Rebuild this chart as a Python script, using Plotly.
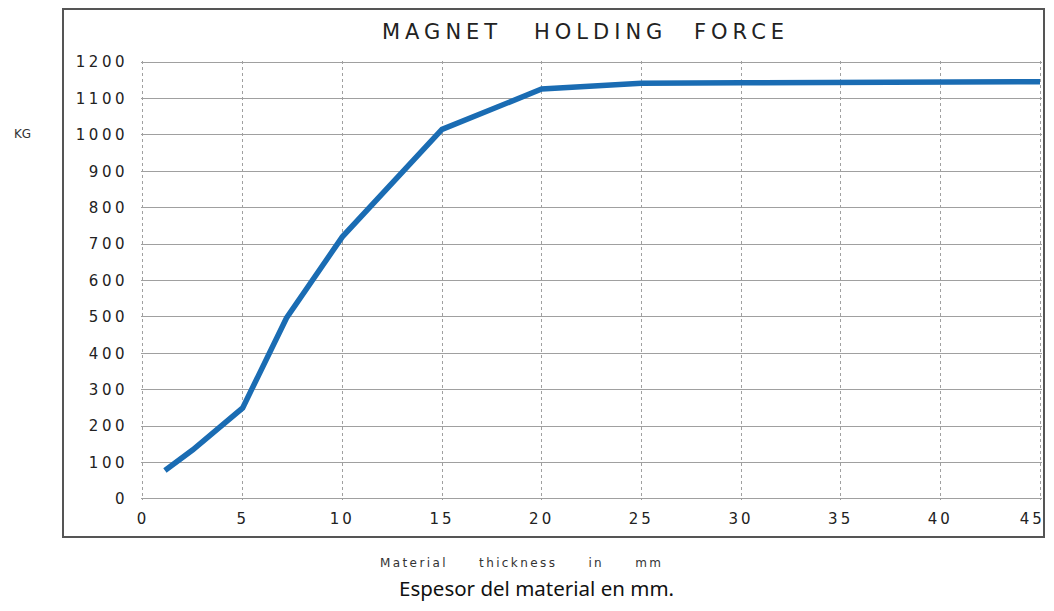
import plotly.graph_objects as go

# data
thickness = [1.1, 2.5, 5, 7.2, 10, 15, 20, 25, 30, 35, 40, 45]
force_kg = [78, 135, 250, 497, 720, 1015, 1126, 1142, 1143, 1144, 1145, 1146]

x_ticks = [0, 5, 10, 15, 20, 25, 30, 35, 40, 45]
y_ticks = [0, 100, 200, 300, 400, 500, 600, 700, 800, 900, 1000, 1100, 1200]
title_words = ['MAGNET', 'HOLDING', 'FORCE']

def wide(s, sp):
    # imitate the wide font of the original
    return '<span style="letter-spacing:%spx">%s</span>' % (sp, s)

# last x label sits a little left of its grid line in the original
x_labels = [wide(v, 3) for v in x_ticks]
x_labels[-1] = wide(str(x_ticks[-1]) + '&nbsp;&nbsp;', 3)

fig = go.Figure()
fig.add_trace(go.Scatter(x=thickness, y=force_kg, mode='lines',
                         line=dict(color='#1a6cb3', width=5.5), showlegend=False))

# page body has an 8px margin, so the figure is offset by 8px and kept inside the window
OFF = 8
W, H = 1038, 595
L, T = 133, 53
pw, ph = 901, 439
R, B = W - L - pw, H - T - ph

def px_x(px):
    return (px - OFF - L) / pw

def px_y(py):
    return (H - B - (py - OFF)) / ph

fig.update_layout(
    width=W, height=H,
    margin=dict(l=L, r=R, t=T, b=B, autoexpand=False),
    paper_bgcolor='white', plot_bgcolor='white',
    font=dict(family='DejaVu Sans', color='#222222'),
)
# ranges padded a hair so the edge grid lines are drawn
fig.update_xaxes(range=[-0.1, 45.1], tickvals=x_ticks, ticktext=x_labels,
                 showline=False, zeroline=False, automargin=False, ticklabeloverflow='allow',
                 showgrid=True, gridcolor='#a0a0a0', griddash='dot', gridwidth=1,
                 tickfont=dict(size=15, color='#222222'), ticks='', ticklabelstandoff=8)
fig.update_yaxes(range=[-3, 1203], tickvals=y_ticks, ticktext=[wide(v, 3.5) for v in y_ticks],
                 showline=False, zeroline=False, automargin=False,
                 showgrid=True, gridcolor='#a0a0a0', gridwidth=1,
                 tickfont=dict(size=15, color='#222222'), ticks='', ticklabelstandoff=12)

# outer frame
fig.add_shape(type='rect', xref='paper', yref='paper',
              x0=px_x(63), x1=px_x(1044), y0=px_y(537), y1=px_y(9),
              line=dict(color='#555555', width=2), fillcolor='rgba(0,0,0,0)', layer='above')

def note(text, cx, cy, size, color, family='DejaVu Sans'):
    fig.add_annotation(text=text, xref='paper', yref='paper', x=px_x(cx), y=px_y(cy),
                       xanchor='center', yanchor='middle', showarrow=False,
                       font=dict(size=size, family=family, color=color))

for word, cx in zip(title_words, [442, 600, 741]):
    note(wide(word, 5), cx, 32, 21, '#222222')

note('KG', 23, 134, 12, '#333333')
note(wide('Material     thickness     in     mm', 2.4), 521, 563, 12, '#333333')
note('Espesor del material en mm.', 536, 588, 20.5, '#111111', 'Noto Sans')

fig.write_html("out.html")
